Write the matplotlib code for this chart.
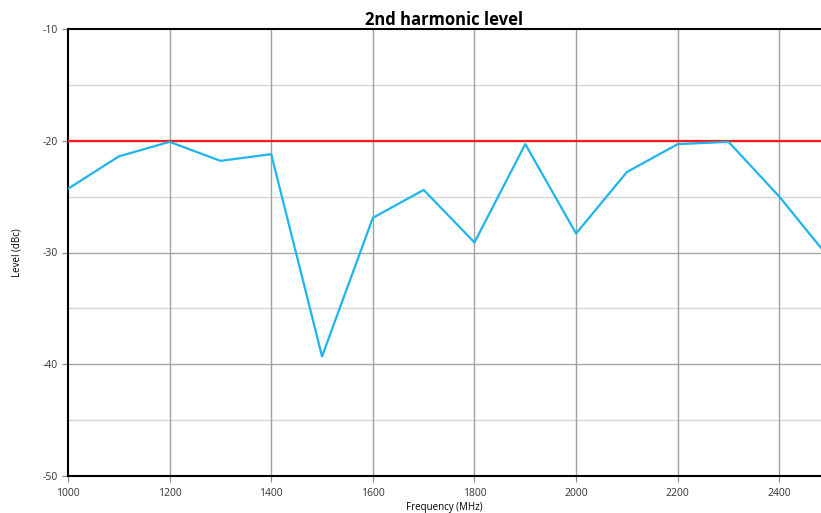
import matplotlib
matplotlib.use("Agg")
import matplotlib.pyplot as plt
import numpy as np

freq = [1000, 1100, 1200, 1300, 1400, 1500, 1600, 1700, 1800, 1900, 2000, 2100, 2200, 2300, 2400, 2500]
level = [-24.3, -21.4, -20.1, -21.8, -21.2, -39.3, -26.9, -24.4, -29.1, -20.3, -28.3, -22.8, -20.3, -20.1, -25.0, -30.6]
limit = [-20, -20]
limit_freq = [1000, 2500]
xticks = [1000, 1200, 1400, 1600, 1800, 2000, 2200, 2400]
yticks = [-50, -40, -30, -20, -10]

plt.rcParams['font.family'] = ['Open Sans', 'DejaVu Sans']
fig = plt.figure(figsize=(8.21, 5.13), dpi=100)
ax = fig.add_axes([68/821, 37/513, 1 - 68/821, 447/513])

ax.set_xlim(1000, 2482)
ax.set_ylim(-50, -10)

for y in np.arange(-45, -10, 10):
    ax.axhline(y, color='#d4d4d4', lw=1.0, zorder=1)
for y in [-40, -30, -20]:
    ax.axhline(y, color='#a6a6a6', lw=1.0, zorder=1)
for x in xticks[1:]:
    ax.axvline(x, color='#a0a0a0', lw=1.0, zorder=1)

ax.plot(limit_freq, limit, color='#ff1a1a', lw=1.6, zorder=3)
ax.plot(freq, level, color='#1eb4ec', lw=1.6, zorder=4)

ax.set_xticks(xticks)
ax.set_yticks(yticks)
ax.set_xticklabels([str(v) for v in xticks])
ax.set_yticklabels([str(v) for v in yticks])
ax.tick_params(axis='both', labelsize=7.5, colors='#333333', length=4, width=0.8, direction='out')
ax.tick_params(axis='x', pad=5)
ax.tick_params(axis='both', color='#888888')

for side in ['left', 'top', 'bottom']:
    ax.spines[side].set_color('black')
    ax.spines[side].set_linewidth(1.5)
ax.spines['right'].set_visible(False)

ax.set_title('2nd harmonic level', fontsize=12, fontweight='bold', pad=3)
ax.set_xlabel('Frequency (MHz)', fontsize=7, labelpad=2)
ax.set_ylabel('Level (dBc)', fontsize=7, labelpad=14)

fig.savefig('out.png', dpi=100)
